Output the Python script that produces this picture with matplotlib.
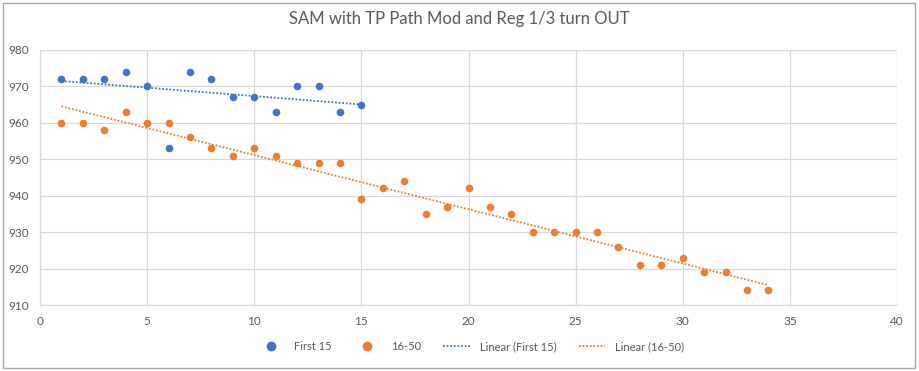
import numpy as np
from matplotlib import pyplot as plt
from matplotlib.patches import Rectangle
from matplotlib.lines import Line2D

# values
first_x = list(range(1, 16))
first_y = [972, 972, 972, 974, 970, 953, 974, 972, 967, 967, 963, 970, 970, 963, 965]

rest_x = list(range(1, 35))
rest_y = [960, 960, 958, 963, 960, 960, 956, 953, 951, 953, 951, 949, 949, 949, 939,
          942, 944, 935, 937, 942, 937, 935, 930, 930, 930, 930, 926, 921, 921, 923,
          919, 919, 914, 914]

x_ticks = [0, 5, 10, 15, 20, 25, 30, 35, 40]
y_ticks = [910, 920, 930, 940, 950, 960, 970, 980]

BLUE = "#4472C4"
ORANGE = "#ED7D31"
GRID = "#D9D9D9"
TEXT = "#595959"

plt.rcParams["font.family"] = ["Lato", "DejaVu Sans"]

fig = plt.figure(figsize=(9.19, 3.71), dpi=100)
ax = fig.add_axes([40 / 919, 1 - 305 / 371, 857 / 919, 255 / 371])

ax.scatter(first_x, first_y, s=30, color=BLUE, zorder=3, linewidths=0)
ax.scatter(rest_x, rest_y, s=30, color=ORANGE, zorder=3, linewidths=0)

# linear trendlines over each series' own x range
for xs, ys, c in [(first_x, first_y, BLUE), (rest_x, rest_y, ORANGE)]:
    k, b = np.polyfit(xs, ys, 1)
    xx = np.array([xs[0], xs[-1]])
    ax.plot(xx, k * xx + b, color=c, lw=1.3, linestyle=(0, (1, 1)), zorder=2)

ax.set_xlim(0, 40)
ax.set_ylim(910, 980)
ax.set_xticks(x_ticks)
ax.set_yticks(y_ticks)
ax.grid(True, color=GRID, lw=0.9)
ax.set_axisbelow(True)
for side in ["top", "right"]:
    ax.spines[side].set_visible(False)
for side in ["left", "bottom"]:
    ax.spines[side].set_color(GRID)
    ax.spines[side].set_linewidth(0.9)
ax.tick_params(length=0, labelsize=8.5, colors=TEXT, pad=8)

fig.suptitle("SAM with TP Path Mod and Reg 1/3 turn OUT", y=0.97, fontsize=12, color=TEXT)

handles = [
    Line2D([], [], color=BLUE, marker="o", linestyle="none", markersize=6),
    Line2D([], [], color=ORANGE, marker="o", linestyle="none", markersize=6),
    Line2D([], [], color=BLUE, lw=1.3, linestyle=(0, (1, 1))),
    Line2D([], [], color=ORANGE, lw=1.3, linestyle=(0, (1, 1))),
]
labels = ["First 15", "16-50", "Linear (First 15)", "Linear (16-50)"]
fig.legend(handles, labels, loc="center", bbox_to_anchor=(0.5125, 0.065), ncol=4,
           frameon=False, fontsize=8, labelcolor=TEXT, handlelength=2.4,
           columnspacing=2.0, handletextpad=0.9)

# chart area border
fig.patches.append(Rectangle((3 / 919, 3 / 371), 912 / 919, 365 / 371,
                             transform=fig.transFigure, fill=False,
                             edgecolor="#A6A6A6", lw=1))

fig.savefig("out.png", dpi=100)
